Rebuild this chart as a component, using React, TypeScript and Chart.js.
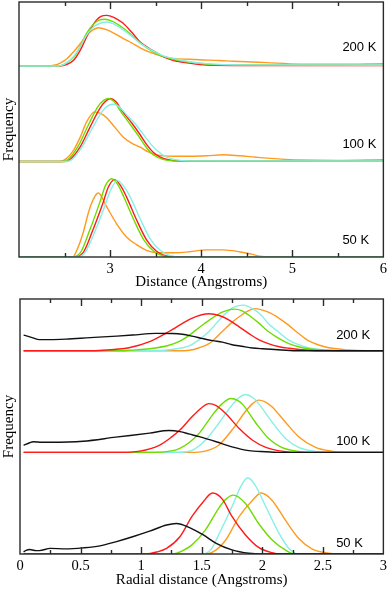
import React, { useEffect, useRef } from "react";
import { Chart, registerables } from "chart.js";
Chart.register(...registerables);

type Pt = [number, number];

// ---------- Top panel: Distance (Angstroms), height above each temperature baseline ----------
const top50Cyan: Pt[] = [[2,0],[2.62,0],[2.72,0.04],[2.83,0.26],[2.94,0.53],[3.01,0.71],[3.08,0.80],[3.15,0.74],[3.22,0.63],[3.33,0.40],[3.44,0.19],[3.55,0.07],[3.66,0.015],[3.8,0],[6,0]];
const top50Green: Pt[] = [[2,0],[2.57,0],[2.67,0.04],[2.78,0.29],[2.89,0.58],[2.95,0.75],[3.02,0.82],[3.09,0.75],[3.15,0.63],[3.26,0.39],[3.37,0.18],[3.48,0.06],[3.59,0.01],[3.72,0],[6,0]];
const top50Red: Pt[] = [[2,0],[2.6,0],[2.7,0.04],[2.81,0.28],[2.92,0.56],[2.98,0.73],[3.05,0.81],[3.12,0.74],[3.18,0.63],[3.29,0.39],[3.40,0.18],[3.51,0.06],[3.62,0.01],[3.75,0],[6,0]];
const top50Orange: Pt[] = [[2,0],[2.59,0],[2.63,0.06],[2.70,0.24],[2.77,0.49],[2.83,0.63],[2.87,0.67],[2.96,0.53],[3.07,0.35],[3.18,0.21],[3.29,0.13],[3.40,0.07],[3.51,0.045],[3.69,0.045],[3.87,0.055],[4.06,0.075],[4.24,0.075],[4.42,0.055],[4.55,0.03],[4.67,0.005],[4.8,0],[6,0]];

const top100Cyan: Pt[] = [[2,0],[2.52,0],[2.58,0.02],[2.69,0.15],[2.80,0.34],[2.91,0.52],[2.97,0.58],[3.03,0.60],[3.09,0.58],[3.18,0.49],[3.27,0.40],[3.36,0.29],[3.44,0.19],[3.51,0.12],[3.60,0.055],[3.69,0.025],[3.85,0.007],[6,0.005]];
const top100Green: Pt[] = [[2,0],[2.48,0],[2.54,0.02],[2.65,0.16],[2.76,0.38],[2.87,0.58],[2.93,0.64],[2.98,0.66],[3.04,0.63],[3.12,0.52],[3.22,0.39],[3.31,0.27],[3.38,0.17],[3.45,0.09],[3.53,0.04],[3.63,0.012],[3.8,0.005],[6,0.005]];
const top100Red: Pt[] = [[2,0],[2.5,0],[2.56,0.02],[2.67,0.15],[2.78,0.36],[2.89,0.56],[2.95,0.63],[3.0,0.66],[3.06,0.63],[3.14,0.52],[3.24,0.40],[3.33,0.28],[3.40,0.18],[3.47,0.10],[3.55,0.045],[3.65,0.015],[3.8,0.005],[6,0.005]];
const top100Orange: Pt[] = [[2,0],[2.45,0],[2.52,0.03],[2.6,0.12],[2.67,0.25],[2.74,0.41],[2.83,0.52],[2.9,0.50],[2.96,0.46],[3.05,0.36],[3.14,0.26],[3.24,0.19],[3.33,0.15],[3.42,0.1],[3.51,0.07],[3.69,0.055],[3.88,0.055],[4.06,0.06],[4.24,0.07],[4.42,0.06],[4.6,0.045],[4.8,0.03],[5.08,0.015],[5.5,0.012],[6,0.02]];

const top200Cyan: Pt[] = [[2,0],[2.42,0],[2.5,0.02],[2.6,0.10],[2.67,0.2],[2.74,0.32],[2.82,0.41],[2.9,0.45],[2.96,0.46],[3.04,0.44],[3.14,0.38],[3.24,0.31],[3.33,0.24],[3.42,0.185],[3.51,0.14],[3.6,0.1],[3.69,0.08],[3.87,0.045],[4.06,0.025],[4.5,0.012],[6,0.01]];
const top200Green: Pt[] = [[2,0],[2.42,0],[2.5,0.02],[2.6,0.09],[2.67,0.2],[2.74,0.34],[2.82,0.44],[2.88,0.48],[2.94,0.49],[3.02,0.47],[3.14,0.40],[3.24,0.32],[3.33,0.24],[3.42,0.18],[3.51,0.13],[3.6,0.095],[3.69,0.07],[3.87,0.04],[4.06,0.02],[4.5,0.01],[6,0.008]];
const top200Red: Pt[] = [[2,0],[2.45,0],[2.52,0.015],[2.6,0.06],[2.67,0.16],[2.74,0.30],[2.8,0.41],[2.85,0.48],[2.9,0.52],[2.96,0.53],[3.04,0.51],[3.14,0.45],[3.24,0.35],[3.33,0.25],[3.42,0.19],[3.51,0.14],[3.6,0.09],[3.69,0.06],[3.87,0.03],[4.06,0.01],[4.5,0.005],[6,0.005]];
const top200Orange: Pt[] = [[2,0],[2.3,0],[2.4,0.01],[2.45,0.03],[2.52,0.07],[2.6,0.15],[2.67,0.23],[2.74,0.32],[2.8,0.37],[2.87,0.40],[2.96,0.38],[3.05,0.34],[3.14,0.29],[3.24,0.24],[3.33,0.19],[3.42,0.15],[3.51,0.12],[3.6,0.095],[3.69,0.08],[3.87,0.07],[3.98,0.065],[4.2,0.058],[4.35,0.05],[4.5,0.045],[4.72,0.035],[5.08,0.02],[5.5,0.018],[6,0.025]];

// ---------- Bottom panel: Radial distance (Angstroms) ----------
const bot50Black: Pt[] = [[0.03,0.02],[0.05,0.035],[0.08,0.045],[0.12,0.035],[0.16,0.033],[0.25,0.055],[0.38,0.05],[0.52,0.06],[0.66,0.08],[0.79,0.12],[0.93,0.17],[1.07,0.225],[1.21,0.285],[1.29,0.30],[1.40,0.26],[1.51,0.19],[1.62,0.105],[1.75,0.04],[1.89,0.007],[2.0,0],[3,0]];
const bot50Red: Pt[] = [[0.03,0],[1.04,0],[1.13,0.02],[1.21,0.055],[1.32,0.17],[1.42,0.37],[1.51,0.51],[1.59,0.60],[1.67,0.54],[1.75,0.37],[1.86,0.19],[1.97,0.065],[2.08,0.013],[2.15,0],[3,0]];
const bot50Green: Pt[] = [[0.03,0],[1.26,0],[1.34,0.03],[1.42,0.09],[1.53,0.235],[1.64,0.45],[1.70,0.54],[1.76,0.58],[1.86,0.50],[1.97,0.30],[2.08,0.14],[2.19,0.04],[2.27,0],[3,0]];
const bot50Cyan: Pt[] = [[0.03,0],[1.51,0],[1.58,0.05],[1.64,0.19],[1.75,0.465],[1.83,0.68],[1.88,0.75],[1.94,0.68],[2.03,0.465],[2.14,0.20],[2.22,0.055],[2.30,0],[3,0]];
const bot50Orange: Pt[] = [[0.03,0],[1.53,0],[1.62,0.04],[1.70,0.14],[1.81,0.37],[1.92,0.53],[1.99,0.60],[2.08,0.53],[2.19,0.335],[2.30,0.155],[2.41,0.05],[2.55,0.007],[2.62,0],[3,0]];

const bot100Black: Pt[] = [[0.03,0.07],[0.08,0.095],[0.11,0.105],[0.18,0.1],[0.25,0.1],[0.52,0.11],[0.79,0.15],[1.07,0.19],[1.23,0.215],[1.32,0.205],[1.40,0.18],[1.48,0.155],[1.62,0.105],[1.75,0.055],[1.89,0.017],[2.03,0.007],[2.16,0],[3,0]];
const bot100Red: Pt[] = [[0.03,0],[0.82,0],[0.99,0.013],[1.15,0.07],[1.25,0.15],[1.32,0.22],[1.42,0.35],[1.5,0.44],[1.56,0.48],[1.62,0.46],[1.70,0.38],[1.81,0.235],[1.92,0.12],[2.03,0.05],[2.16,0.013],[2.3,0],[3,0]];
const bot100Green: Pt[] = [[0.03,0],[1.1,0],[1.25,0.015],[1.32,0.04],[1.40,0.1],[1.48,0.19],[1.59,0.37],[1.67,0.48],[1.74,0.53],[1.8,0.51],[1.84,0.47],[1.95,0.285],[2.05,0.14],[2.16,0.05],[2.30,0.01],[2.45,0],[3,0]];
const bot100Cyan: Pt[] = [[0.03,0],[1.3,0],[1.42,0.02],[1.53,0.12],[1.64,0.285],[1.75,0.465],[1.81,0.54],[1.86,0.57],[1.92,0.54],[1.97,0.48],[2.08,0.30],[2.19,0.14],[2.30,0.05],[2.44,0.01],[2.6,0],[3,0]];
const bot100Orange: Pt[] = [[0.03,0],[1.4,0],[1.53,0.013],[1.64,0.07],[1.75,0.22],[1.86,0.40],[1.92,0.48],[1.97,0.515],[2.02,0.50],[2.08,0.45],[2.19,0.30],[2.30,0.155],[2.44,0.05],[2.57,0.013],[2.7,0],[3,0]];

const bot200Black: Pt[] = [[0.03,0.155],[0.1,0.13],[0.16,0.11],[0.25,0.11],[0.38,0.115],[0.58,0.13],[0.8,0.145],[0.93,0.155],[1.12,0.172],[1.26,0.17],[1.34,0.163],[1.42,0.145],[1.51,0.12],[1.59,0.1],[1.67,0.085],[1.75,0.06],[1.83,0.045],[1.92,0.028],[2.0,0.02],[2.16,0.008],[2.3,0],[3,0]];
const bot200Red: Pt[] = [[0.03,0],[0.6,0],[0.74,0.01],[0.9,0.03],[1.07,0.09],[1.23,0.19],[1.4,0.31],[1.5,0.355],[1.56,0.365],[1.65,0.345],[1.73,0.30],[1.81,0.235],[1.89,0.17],[1.97,0.11],[2.05,0.07],[2.14,0.04],[2.22,0.025],[2.38,0.005],[2.5,0],[3,0]];
const bot200Green: Pt[] = [[0.03,0],[0.85,0],[0.9,0.005],[1.07,0.02],[1.23,0.055],[1.32,0.095],[1.40,0.155],[1.48,0.23],[1.56,0.30],[1.67,0.38],[1.77,0.41],[1.83,0.395],[1.89,0.35],[1.97,0.275],[2.05,0.19],[2.14,0.12],[2.22,0.07],[2.30,0.04],[2.38,0.02],[2.55,0.005],[2.7,0],[3,0]];
const bot200Cyan: Pt[] = [[0.03,0],[1.1,0],[1.23,0.01],[1.32,0.025],[1.40,0.05],[1.48,0.11],[1.56,0.19],[1.62,0.27],[1.67,0.335],[1.75,0.42],[1.84,0.45],[1.94,0.40],[2.0,0.34],[2.05,0.27],[2.14,0.18],[2.22,0.105],[2.30,0.06],[2.38,0.03],[2.55,0.005],[2.7,0],[3,0]];
const bot200Orange: Pt[] = [[0.03,0],[1.3,0],[1.40,0.005],[1.48,0.03],[1.56,0.07],[1.67,0.19],[1.74,0.27],[1.81,0.335],[1.88,0.39],[1.94,0.415],[2.05,0.38],[2.14,0.32],[2.22,0.25],[2.30,0.17],[2.38,0.10],[2.46,0.06],[2.55,0.03],[2.71,0.008],[2.85,0],[3,0]];

// Temperature groups (baseline offset = index)
const TEMPS = ["50 K", "100 K", "200 K"];
const TOP_GROUPS: Pt[][][] = [
  [top50Cyan, top50Green, top50Red, top50Orange],
  [top100Cyan, top100Green, top100Red, top100Orange],
  [top200Cyan, top200Green, top200Red, top200Orange],
];
const TOP_COLORS = ["#86f0e4", "#6edc00", "#ff1a1a", "#ff9a1f"];
const BOT_GROUPS: Pt[][][] = [
  [bot50Black, bot50Red, bot50Green, bot50Cyan, bot50Orange],
  [bot100Black, bot100Red, bot100Green, bot100Cyan, bot100Orange],
  [bot200Black, bot200Red, bot200Green, bot200Cyan, bot200Orange],
];
const BOT_COLORS = ["#111111", "#ff1a1a", "#6edc00", "#86f0e4", "#ff9a1f"];

const TOP_LABEL_X = 5.55;
const TOP_LABEL_Y = [0.17, 1.18, 2.19];
const BOT_LABEL_X = 2.61;
const BOT_LABEL_Y = [0.1, 1.11, 2.15];

const framePlugin = {
  id: "frameTicks",
  afterDatasetsDraw(chart: any, _args: any, opts: any) {
    const { ctx, chartArea: a, scales } = chart;
    const xs = scales.x;
    const ys = scales.y;
    ctx.save();
    ctx.strokeStyle = "#2a2a2a";
    ctx.lineWidth = 1.4;
    ctx.strokeRect(a.left, a.top, a.right - a.left, a.bottom - a.top);
    const n = Math.round((xs.max - xs.min) / opts.minor);
    ctx.beginPath();
    for (let i = 1; i < n; i++) {
      const v = xs.min + i * opts.minor;
      const isMajor = Math.abs(v / opts.major - Math.round(v / opts.major)) < 1e-6;
      const len = isMajor ? 7 : 4;
      const px = Math.round(xs.getPixelForValue(v)) + 0.5;
      ctx.moveTo(px, a.bottom);
      ctx.lineTo(px, a.bottom - len);
      ctx.moveTo(px, a.top);
      ctx.lineTo(px, a.top + len);
    }
    ctx.stroke();
    ctx.fillStyle = "#000";
    ctx.font = "13px 'Liberation Sans', Arial, sans-serif";
    ctx.textAlign = "left";
    ctx.textBaseline = "middle";
    opts.labels.forEach((t: string, i: number) => {
      ctx.fillText(t, xs.getPixelForValue(opts.lx), ys.getPixelForValue(opts.ly[i]));
    });
    ctx.restore();
  },
};

const SERIF = "'Liberation Serif', 'Times New Roman', serif";

function buildDatasets(groups: Pt[][][], colors: string[]) {
  const ds: any[] = [];
  groups.forEach((group, gi) => {
    group.forEach((pts, si) => {
      ds.push({
        label: TEMPS[gi] + " " + si,
        data: pts.map(([x, y]) => ({ x, y: y + gi })),
        borderColor: colors[si],
        borderWidth: 1.4,
        pointRadius: 0,
        fill: false,
        cubicInterpolationMode: "monotone",
      });
    });
  });
  return ds;
}

function makeConfig(p: {
  groups: Pt[][][];
  colors: string[];
  xmin: number;
  xmax: number;
  step: number;
  ymax: number;
  xTitle: string;
  hideFirst: boolean;
  axisW: number;
  axisH: number;
  padding: any;
  minor: number;
  major: number;
  lx: number;
  ly: number[];
}): any {
  return {
    type: "line",
    data: { datasets: buildDatasets(p.groups, p.colors) },
    plugins: [framePlugin],
    options: {
      responsive: false,
      animation: false,
      layout: { padding: p.padding },
      plugins: {
        legend: { display: false },
        tooltip: { enabled: false },
        frameTicks: { minor: p.minor, major: p.major, labels: TEMPS, lx: p.lx, ly: p.ly },
      },
      scales: {
        x: {
          type: "linear",
          min: p.xmin,
          max: p.xmax,
          grid: { display: false, drawTicks: false },
          border: { display: false },
          ticks: {
            stepSize: p.step,
            color: "#000",
            padding: 3,
            maxRotation: 0,
            autoSkip: false,
            font: { family: SERIF, size: 14.5 },
            callback: (v: any) => (p.hideFirst && Math.abs(v - p.xmin) < 1e-9 ? "" : String(v)),
          },
          title: {
            display: true,
            text: p.xTitle,
            color: "#000",
            font: { family: SERIF, size: 15 },
            padding: { top: 0, bottom: 0 },
          },
          afterFit: (s: any) => {
            s.height = p.axisH;
          },
        },
        y: {
          type: "linear",
          min: 0,
          max: p.ymax,
          grid: { display: false, drawTicks: false },
          border: { display: false },
          ticks: { display: false },
          title: {
            display: true,
            text: "Frequency",
            color: "#000",
            font: { family: SERIF, size: 15 },
            padding: { top: 0, bottom: 0 },
          },
          afterFit: (s: any) => {
            s.width = p.axisW;
          },
        },
      },
    },
  };
}

function Panel(props: { top: number; height: number; config: any }) {
  const ref = useRef<HTMLCanvasElement | null>(null);
  useEffect(() => {
    if (!ref.current) return;
    const chart = new Chart(ref.current, props.config);
    return () => chart.destroy();
  }, []);
  return (
    <canvas
      ref={ref}
      width={390}
      height={props.height}
      style={{ position: "absolute", left: 0, top: props.top, width: 390, height: props.height, display: "block" }}
    />
  );
}

export default function App() {
  const topCfg = makeConfig({
    groups: TOP_GROUPS,
    colors: TOP_COLORS,
    xmin: 2,
    xmax: 6,
    step: 1,
    ymax: 2.67,
    xTitle: "Distance (Angstroms)",
    hideFirst: true,
    axisW: 19,
    axisH: 34,
    padding: { top: 2, right: 6, left: 0, bottom: 0 },
    minor: 0.5,
    major: 1,
    lx: TOP_LABEL_X,
    ly: TOP_LABEL_Y,
  });
  const botCfg = makeConfig({
    groups: BOT_GROUPS,
    colors: BOT_COLORS,
    xmin: 0,
    xmax: 3,
    step: 0.5,
    ymax: 2.51,
    xTitle: "Radial distance (Angstroms)",
    hideFirst: false,
    axisW: 20,
    axisH: 35,
    padding: { top: 8, right: 5, left: 0, bottom: 1 },
    minor: 0.25,
    major: 0.5,
    lx: BOT_LABEL_X,
    ly: BOT_LABEL_Y,
  });
  return (
    <div style={{ position: "absolute", left: 0, top: 0, width: 390, height: 590, background: "#fff" }}>
      <Panel top={0} height={291} config={topCfg} />
      <Panel top={291} height={299} config={botCfg} />
    </div>
  );
}
